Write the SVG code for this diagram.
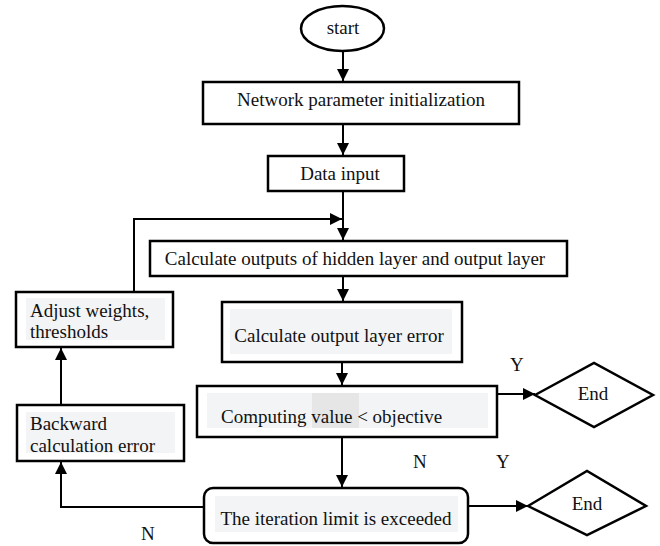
<svg xmlns="http://www.w3.org/2000/svg" width="660" height="546" viewBox="0 0 660 546">
<style>
.box{fill:#fff;stroke:#000;stroke-width:2.5}
.bg{fill:#f3f4f6}
.bg2{fill:#e6e6e6}
text{font-family:"Liberation Serif","Times New Roman",serif;font-size:19px;fill:#111}
.c{text-anchor:middle}
.ln{fill:none;stroke:#000;stroke-width:2}
</style>
<defs>
<marker id="ah" markerWidth="12" markerHeight="12" viewBox="0 0 12 12" refX="12" refY="6" orient="auto" markerUnits="userSpaceOnUse">
<path d="M0,0 L12,6 L0,12 Z" fill="#000"/>
</marker>
</defs>
<rect width="660" height="546" fill="#fff"/>
<g id="connectors">
<path class="ln" d="M343,52 V81" marker-end="url(#ah)"/>
<path class="ln" d="M343,124 V155" marker-end="url(#ah)"/>
<path class="ln" d="M343,191 V240" marker-end="url(#ah)"/>
<path class="ln" d="M134,292 V219 H342" marker-end="url(#ah)"/>
<path class="ln" d="M343,276 V301" marker-end="url(#ah)"/>
<path class="ln" d="M342,362 V385" marker-end="url(#ah)"/>
<path class="ln" d="M497,394 H535" marker-end="url(#ah)"/>
<path class="ln" d="M342,437 V487" marker-end="url(#ah)"/>
<path class="ln" d="M468,506 H528" marker-end="url(#ah)"/>
<path class="ln" d="M204,507 H61 V462" marker-end="url(#ah)"/>
<path class="ln" d="M61,404 V348" marker-end="url(#ah)"/>
<text x="510" y="371">Y</text>
<text x="413" y="468">N</text>
<text x="496" y="468">Y</text>
<text x="141" y="540">N</text>
</g>
<g id="start">
<ellipse class="box" cx="342.5" cy="28.5" rx="41.5" ry="22.5"/>
<text class="c" x="343" y="34">start</text>
</g>
<g id="init">
<rect class="box" x="203" y="82" width="316" height="42"/>
<text class="c" x="361" y="106">Network parameter initialization</text>
</g>
<g id="data">
<rect class="box" x="268" y="156" width="136" height="35"/>
<text class="c" x="340" y="180">Data input</text>
</g>
<g id="calcOut">
<rect class="box" x="150" y="241" width="417" height="35"/>
<text class="c" x="355" y="265">Calculate outputs of hidden layer and output layer</text>
</g>
<g id="calcErr">
<rect class="box" x="222" y="302" width="240" height="60"/>
<rect class="bg" x="230" y="309" width="222" height="45"/>
<text class="c" x="339" y="342">Calculate output layer error</text>
</g>
<g id="compute">
<rect class="box" x="197" y="386" width="300" height="51"/>
<rect class="bg" x="207" y="393" width="281" height="35"/>
<rect class="bg2" x="312" y="393" width="47" height="35"/>
<text x="221" y="423">Computing value &lt; objective</text>
</g>
<g id="end1">
<polygon class="box" points="535,395 594,363 653,395 594,427" stroke-width="2"/>
<text class="c" x="593" y="400">End</text>
</g>
<g id="iter">
<rect class="box" x="204" y="488" width="264" height="55" rx="9"/>
<rect class="bg" x="215" y="496" width="243" height="36"/>
<text class="c" x="336" y="525">The iteration limit is exceeded</text>
</g>
<g id="end2">
<polygon class="box" points="528,506 587,471 646,506 587,535" stroke-width="2"/>
<text class="c" x="587" y="510">End</text>
</g>
<g id="adjust">
<rect class="box" x="16" y="292" width="157" height="55"/>
<rect class="bg" x="26" y="298" width="139" height="42"/>
<text x="30" y="317">Adjust weights,</text>
<text x="30" y="338">thresholds</text>
</g>
<g id="backward">
<rect class="box" x="17" y="405" width="167" height="56"/>
<rect class="bg" x="26" y="412" width="149" height="41"/>
<text x="30" y="430">Backward</text>
<text x="30" y="452">calculation error</text>
</g>
</svg>
